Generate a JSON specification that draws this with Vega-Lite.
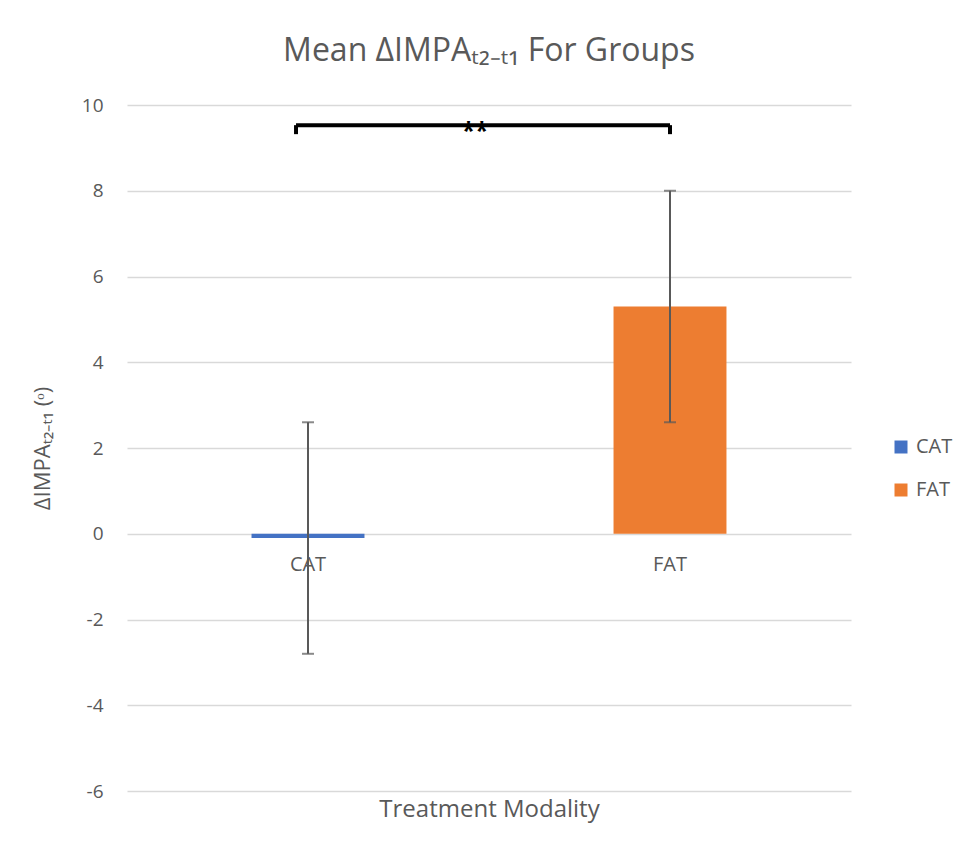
{
  "$schema": "https://vega.github.io/schema/vega-lite/v6.json",
  "autosize": "none",
  "width": 724,
  "height": 686,
  "padding": {"left": 127, "top": 105, "right": 113, "bottom": 65},
  "background": "white",
  "config": {
    "font": "Open Sans",
    "view": {"stroke": null},
    "title": {"font": "Open Sans", "fontSize": 32, "fontWeight": "normal", "color": "#595959", "offset": 28}
  },
  "title": {"text": "Mean ΔIMPAₜ₂₋ₜ₁ For Groups", "anchor": "middle"},
  "datasets": {
    "groups": [
      {"group": "CAT", "mean": -0.1, "lo": -2.8, "hi": 2.6},
      {"group": "FAT", "mean": 5.3, "lo": 2.6, "hi": 8.0}
    ],
    "bracket": [
      {"from": "CAT", "to": "FAT", "y": 9.53, "yEnd": 9.32, "label": "**"}
    ]
  },
  "encoding": {
    "x": {
      "field": "group",
      "type": "nominal",
      "scale": {"domain": ["CAT", "FAT"], "paddingInner": 0.688, "paddingOuter": 0.344},
      "axis": {
        "title": "Treatment Modality",
        "labels": false,
        "ticks": false,
        "domain": false,
        "titleFontSize": 24,
        "titleFontWeight": "normal",
        "titleColor": "#595959",
        "titlePadding": 6
      }
    }
  },
  "layer": [
    {
      "data": {"name": "groups"},
      "mark": {"type": "bar"},
      "encoding": {
        "y": {
          "field": "mean",
          "type": "quantitative",
          "scale": {"domain": [-6, 10], "nice": false},
          "axis": {
            "values": [-6, -4, -2, 0, 2, 4, 6, 8, 10],
            "labelExpr": "toString(datum.value)",
            "title": "ΔIMPAₜ₂₋ₜ₁ (ᵒ)",
            "titleFontSize": 22,
            "titleFontWeight": "normal",
            "titleColor": "#595959",
            "titlePadding": 27,
            "labelFontSize": 19,
            "labelColor": "#595959",
            "labelPadding": 24,
            "ticks": false,
            "domain": false,
            "grid": true,
            "gridColor": "#d9d9d9",
            "gridWidth": 1.5
          }
        },
        "color": {
          "field": "group",
          "type": "nominal",
          "scale": {"domain": ["CAT", "FAT"], "range": ["#4472C4", "#ED7D31"]},
          "legend": {
            "title": null,
            "orient": "none",
            "legendX": 764,
            "legendY": 332,
            "symbolType": "square",
            "symbolSize": 169,
            "symbolStrokeWidth": 0,
            "labelFontSize": 20,
            "labelColor": "#595959",
            "labelOffset": 5,
            "rowPadding": 23
          }
        }
      }
    },
    {
      "data": {"name": "groups"},
      "mark": {"type": "rule", "color": "#595959", "strokeWidth": 2},
      "encoding": {
        "y": {"field": "lo", "type": "quantitative"},
        "y2": {"field": "hi"}
      }
    },
    {
      "data": {"name": "groups"},
      "mark": {"type": "tick", "color": "#595959", "thickness": 2, "size": 12},
      "encoding": {"y": {"field": "lo", "type": "quantitative"}}
    },
    {
      "data": {"name": "groups"},
      "mark": {"type": "tick", "color": "#595959", "thickness": 2, "size": 12},
      "encoding": {"y": {"field": "hi", "type": "quantitative"}}
    },
    {
      "data": {"name": "groups"},
      "mark": {"type": "text", "fontSize": 20, "color": "#595959", "baseline": "middle", "dy": 31},
      "encoding": {
        "y": {"datum": 0, "type": "quantitative"},
        "text": {"field": "group"}
      }
    },
    {
      "data": {"name": "bracket"},
      "mark": {"type": "rule", "color": "black", "strokeWidth": 4},
      "encoding": {
        "x": {"field": "from", "type": "nominal", "bandPosition": 0.394},
        "x2": {"field": "to"},
        "y": {"field": "y", "type": "quantitative"}
      }
    },
    {
      "data": {"name": "bracket"},
      "mark": {"type": "rule", "color": "black", "strokeWidth": 4},
      "encoding": {
        "x": {"field": "from", "type": "nominal", "bandPosition": 0.394},
        "y": {"field": "y", "type": "quantitative"},
        "y2": {"field": "yEnd"}
      }
    },
    {
      "data": {"name": "bracket"},
      "mark": {"type": "rule", "color": "black", "strokeWidth": 4},
      "encoding": {
        "x": {"field": "to", "type": "nominal"},
        "y": {"field": "y", "type": "quantitative"},
        "y2": {"field": "yEnd"}
      }
    },
    {
      "data": {"name": "bracket"},
      "mark": {"type": "text", "fontSize": 24, "fontWeight": "bold", "color": "black", "baseline": "middle", "dy": 7},
      "encoding": {
        "x": {"field": "from", "type": "nominal", "bandPosition": 1.98},
        "y": {"field": "y", "type": "quantitative"},
        "text": {"field": "label"}
      }
    }
  ]
}
